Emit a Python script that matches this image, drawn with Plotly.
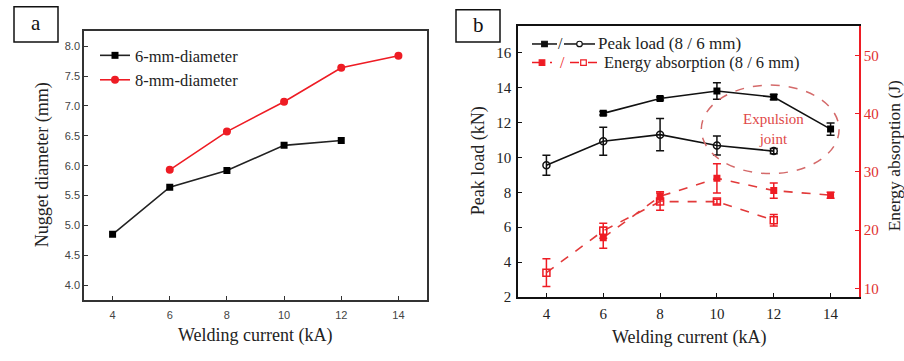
import plotly.graph_objects as go

# ---------------- data ----------------
current_6mm = [4, 6, 8, 10, 12]
current_8mm = [6, 8, 10, 12, 14]

nugget_6mm = [4.85, 5.64, 5.92, 6.34, 6.42]
nugget_8mm = [5.93, 6.57, 7.07, 7.64, 7.84]

peak_8mm = [12.52, 13.37, 13.80, 13.45, 11.62]
peak_8mm_err = [0.10, 0.08, 0.47, 0.15, 0.35]
peak_6mm = [9.55, 10.92, 11.30, 10.68, 10.36]
peak_6mm_err = [0.57, 0.80, 0.92, 0.55, 0.15]

energy_8mm = [18.7, 25.8, 28.9, 26.8, 26.0]
energy_8mm_err = [1.8, 0.8, 2.5, 1.3, 0.5]
energy_6mm = [12.7, 19.9, 24.9, 24.9, 21.7]
energy_6mm_err = [2.4, 1.3, 1.5, 0.4, 1.0]

x_ticks = [4, 6, 8, 10, 12, 14]
nugget_ticks = [4.0, 4.5, 5.0, 5.5, 6.0, 6.5, 7.0, 7.5, 8.0]
peak_ticks = [2, 4, 6, 8, 10, 12, 14, 16]
energy_ticks = [10, 20, 30, 40, 50]

W, H = 904, 352
SERIF = "Liberation Serif, Times New Roman, serif"
SANS = "Liberation Sans, Arial, sans-serif"
RED = "#ee1c24"
ERED = "#e23a3a"


def px(x):
    return x / W


def py(y):
    return 1 - y / H


fig = go.Figure()

# ---------------- panel a ----------------
fig.add_trace(go.Scatter(
    x=current_6mm, y=nugget_6mm, name="6-mm-diameter", mode="lines+markers",
    line=dict(color="#222222", width=1.6),
    marker=dict(symbol="square", size=7, color="#000000"),
    xaxis="x", yaxis="y", legend="legend"))
fig.add_trace(go.Scatter(
    x=current_8mm, y=nugget_8mm, name="8-mm-diameter", mode="lines+markers",
    line=dict(color=RED, width=1.6),
    marker=dict(symbol="circle", size=8, color=RED),
    xaxis="x", yaxis="y", legend="legend"))

# ---------------- panel b ----------------
fig.add_trace(go.Scatter(
    x=current_8mm, y=peak_8mm, mode="lines+markers", showlegend=False,
    line=dict(color="#111111", width=1.6),
    marker=dict(symbol="square", size=7, color="#000000"),
    error_y=dict(type="data", array=peak_8mm_err, color="#111111", thickness=1.5, width=4),
    xaxis="x2", yaxis="y2"))
fig.add_trace(go.Scatter(
    x=current_6mm, y=peak_6mm, mode="lines+markers", showlegend=False,
    line=dict(color="#111111", width=1.6),
    marker=dict(symbol="circle-open", size=7, color="#111111", line=dict(width=1.5)),
    error_y=dict(type="data", array=peak_6mm_err, color="#111111", thickness=1.5, width=4),
    xaxis="x2", yaxis="y2"))
fig.add_trace(go.Scatter(
    x=current_8mm, y=energy_8mm, mode="lines+markers", showlegend=False,
    line=dict(color=ERED, width=1.6, dash="dash"),
    marker=dict(symbol="square", size=7, color=RED),
    error_y=dict(type="data", array=energy_8mm_err, color=RED, thickness=1.5, width=4),
    xaxis="x2", yaxis="y3"))
fig.add_trace(go.Scatter(
    x=current_6mm, y=energy_6mm, mode="lines+markers", showlegend=False,
    line=dict(color=ERED, width=1.6, dash="dash"),
    marker=dict(symbol="square-open", size=7, color=RED, line=dict(width=1.5)),
    error_y=dict(type="data", array=energy_6mm_err, color=RED, thickness=1.5, width=4),
    xaxis="x2", yaxis="y3"))

# ---------------- axes ----------------
dom_ax = [px(84), px(427)]
dom_ay = [py(307), py(32)]
dom_bx = [px(518), px(859)]
dom_by = [py(304), py(27)]

fig.update_layout(
    width=W, height=H,
    margin=dict(l=0, r=0, t=0, b=0),
    paper_bgcolor="white", plot_bgcolor="white",
    xaxis=dict(domain=dom_ax, anchor="y", range=[3, 15], tickvals=x_ticks,
               showline=True, mirror=True, linecolor="#333333", linewidth=1.5,
               ticks="inside", ticklen=4, tickcolor="#333333", showgrid=False, zeroline=False,
               ticklabelstandoff=4,
               tickfont=dict(family=SANS, size=11, color="#444444")),
    yaxis=dict(domain=dom_ay, anchor="x", range=[3.75, 8.25], tickvals=nugget_ticks,
               ticktext=[f"{v:.1f}" for v in nugget_ticks],
               showline=True, mirror=True, linecolor="#333333", linewidth=1.5,
               ticks="inside", ticklen=4, tickcolor="#333333", showgrid=False, zeroline=False,
               tickfont=dict(family=SANS, size=11, color="#444444")),
    xaxis2=dict(domain=dom_bx, anchor="y2", range=[3, 15], tickvals=x_ticks,
                showline=True, mirror=True, linecolor="#111111", linewidth=1.5,
                ticks="inside", ticklen=4, tickcolor="#111111", showgrid=False, zeroline=False,
                ticklabelstandoff=2,
                tickfont=dict(family=SERIF, size=15, color="#222222")),
    yaxis2=dict(domain=dom_by, anchor="x2", range=[2, 17.5], tickvals=peak_ticks,
                showline=True, linecolor="#111111", linewidth=1.5,
                ticks="inside", ticklen=4, tickcolor="#111111", showgrid=False, zeroline=False,
                ticklabelstandoff=2,
                tickfont=dict(family=SERIF, size=15, color="#222222")),
    yaxis3=dict(overlaying="y2", anchor="x2", side="right", range=[8.5, 55], tickvals=energy_ticks,
                showline=True, linecolor=RED, linewidth=1.5,
                ticks="inside", ticklen=4, tickcolor=RED, showgrid=False, zeroline=False,
                tickfont=dict(family=SERIF, size=15, color="#e0302f")),
    legend=dict(x=px(95), y=py(39), xanchor="left", yanchor="top",
                bgcolor="rgba(0,0,0,0)", font=dict(family=SERIF, size=16.5, color="#222222"),
                itemwidth=30, tracegroupgap=0),
)

# ---------------- annotations ----------------
ann = []
title_font = dict(family=SERIF, size=18, color="#222222")
ann.append(dict(text="Nugget diameter (mm)", x=px(42), y=py(169), textangle=-90, font=title_font))
ann.append(dict(text="Welding current (kA)", x=px(255), y=py(343), font=title_font))
ann.append(dict(text="Welding current (kA)", x=px(689), y=py(345), font=title_font))
ann.append(dict(text="Peak load (kN)", x=px(478), y=py(165), textangle=-90, font=title_font))
ann.append(dict(text="Energy absorption (J)", x=px(894), y=py(160), textangle=-90,
                font=dict(family=SERIF, size=17.5, color="#222222")))
ann.append(dict(text="a", x=px(36), y=py(24), font=dict(family=SERIF, size=21, color="#111111")))
ann.append(dict(text="b", x=px(478), y=py(26), font=dict(family=SERIF, size=21, color="#111111")))
# legend b text
ann.append(dict(text="Peak load (8 / 6 mm)", x=px(596), y=py(45), xanchor="left",
                font=dict(family=SERIF, size=17, color="#222222")))
ann.append(dict(text="Energy absorption (8 / 6 mm)", x=px(602), y=py(64), xanchor="left",
                font=dict(family=SERIF, size=16.5, color="#222222")))
ann.append(dict(text="/", x=px(560.5), y=py(45), font=dict(family=SERIF, size=16, color="#222222")))
ann.append(dict(text="/", x=px(562.5), y=py(64), font=dict(family=SERIF, size=16, color=RED)))
# Expulsion joint label
ann.append(dict(text="Expulsion<br>joint", x=12.0, y=11.65, xref="x2", yref="y2",
                font=dict(family=SERIF, size=15, color="#e04848")))
for a in ann:
    a.setdefault("xref", "paper")
    a.setdefault("yref", "paper")
    a.setdefault("xanchor", "center")
    a.setdefault("yanchor", "middle")
    a.setdefault("showarrow", False)
fig.update_layout(annotations=ann)

# ---------------- shapes ----------------
shapes = []
# label boxes
shapes.append(dict(type="rect", xref="paper", yref="paper", x0=px(14), x1=px(58), y0=py(43), y1=py(7),
                   line=dict(color="#111111", width=1.5)))
shapes.append(dict(type="rect", xref="paper", yref="paper", x0=px(456), x1=px(500), y0=py(43), y1=py(10),
                   line=dict(color="#111111", width=1.5)))
# expulsion ellipse
shapes.append(dict(type="circle", xref="x2", yref="y2", x0=9.45, x1=14.3, y0=9.07, y1=14.14,
                   line=dict(color="#d46a6a", width=1.5, dash="dash")))


def glyph(x0, x1, y, color, dash, filled, circle=False):
    xm = (x0 + x1) / 2
    shapes.append(dict(type="line", xref="paper", yref="paper", x0=px(x0), x1=px(x1), y0=py(y), y1=py(y),
                       line=dict(color=color, width=1.5, dash=dash)))
    s = 2.8
    shapes.append(dict(type="circle" if circle else "rect", xref="paper", yref="paper",
                       x0=px(xm - s), x1=px(xm + s), y0=py(y + s), y1=py(y - s),
                       line=dict(color=color, width=1.2),
                       fillcolor=color if filled else "white"))


glyph(532, 557, 45, "#111111", "solid", True)
glyph(564, 595, 45, "#111111", "solid", False, circle=True)
glyph(532, 552, 64, RED, "dash", True)
glyph(570, 597, 64, RED, "dash", False)

fig.update_layout(shapes=shapes)

# the page body has a default 8px margin; remove it so the figure fills the window
fig.write_html("out.html", config={"displayModeBar": False},
               post_script="document.body.style.margin='0';document.documentElement.style.overflow='hidden';")
